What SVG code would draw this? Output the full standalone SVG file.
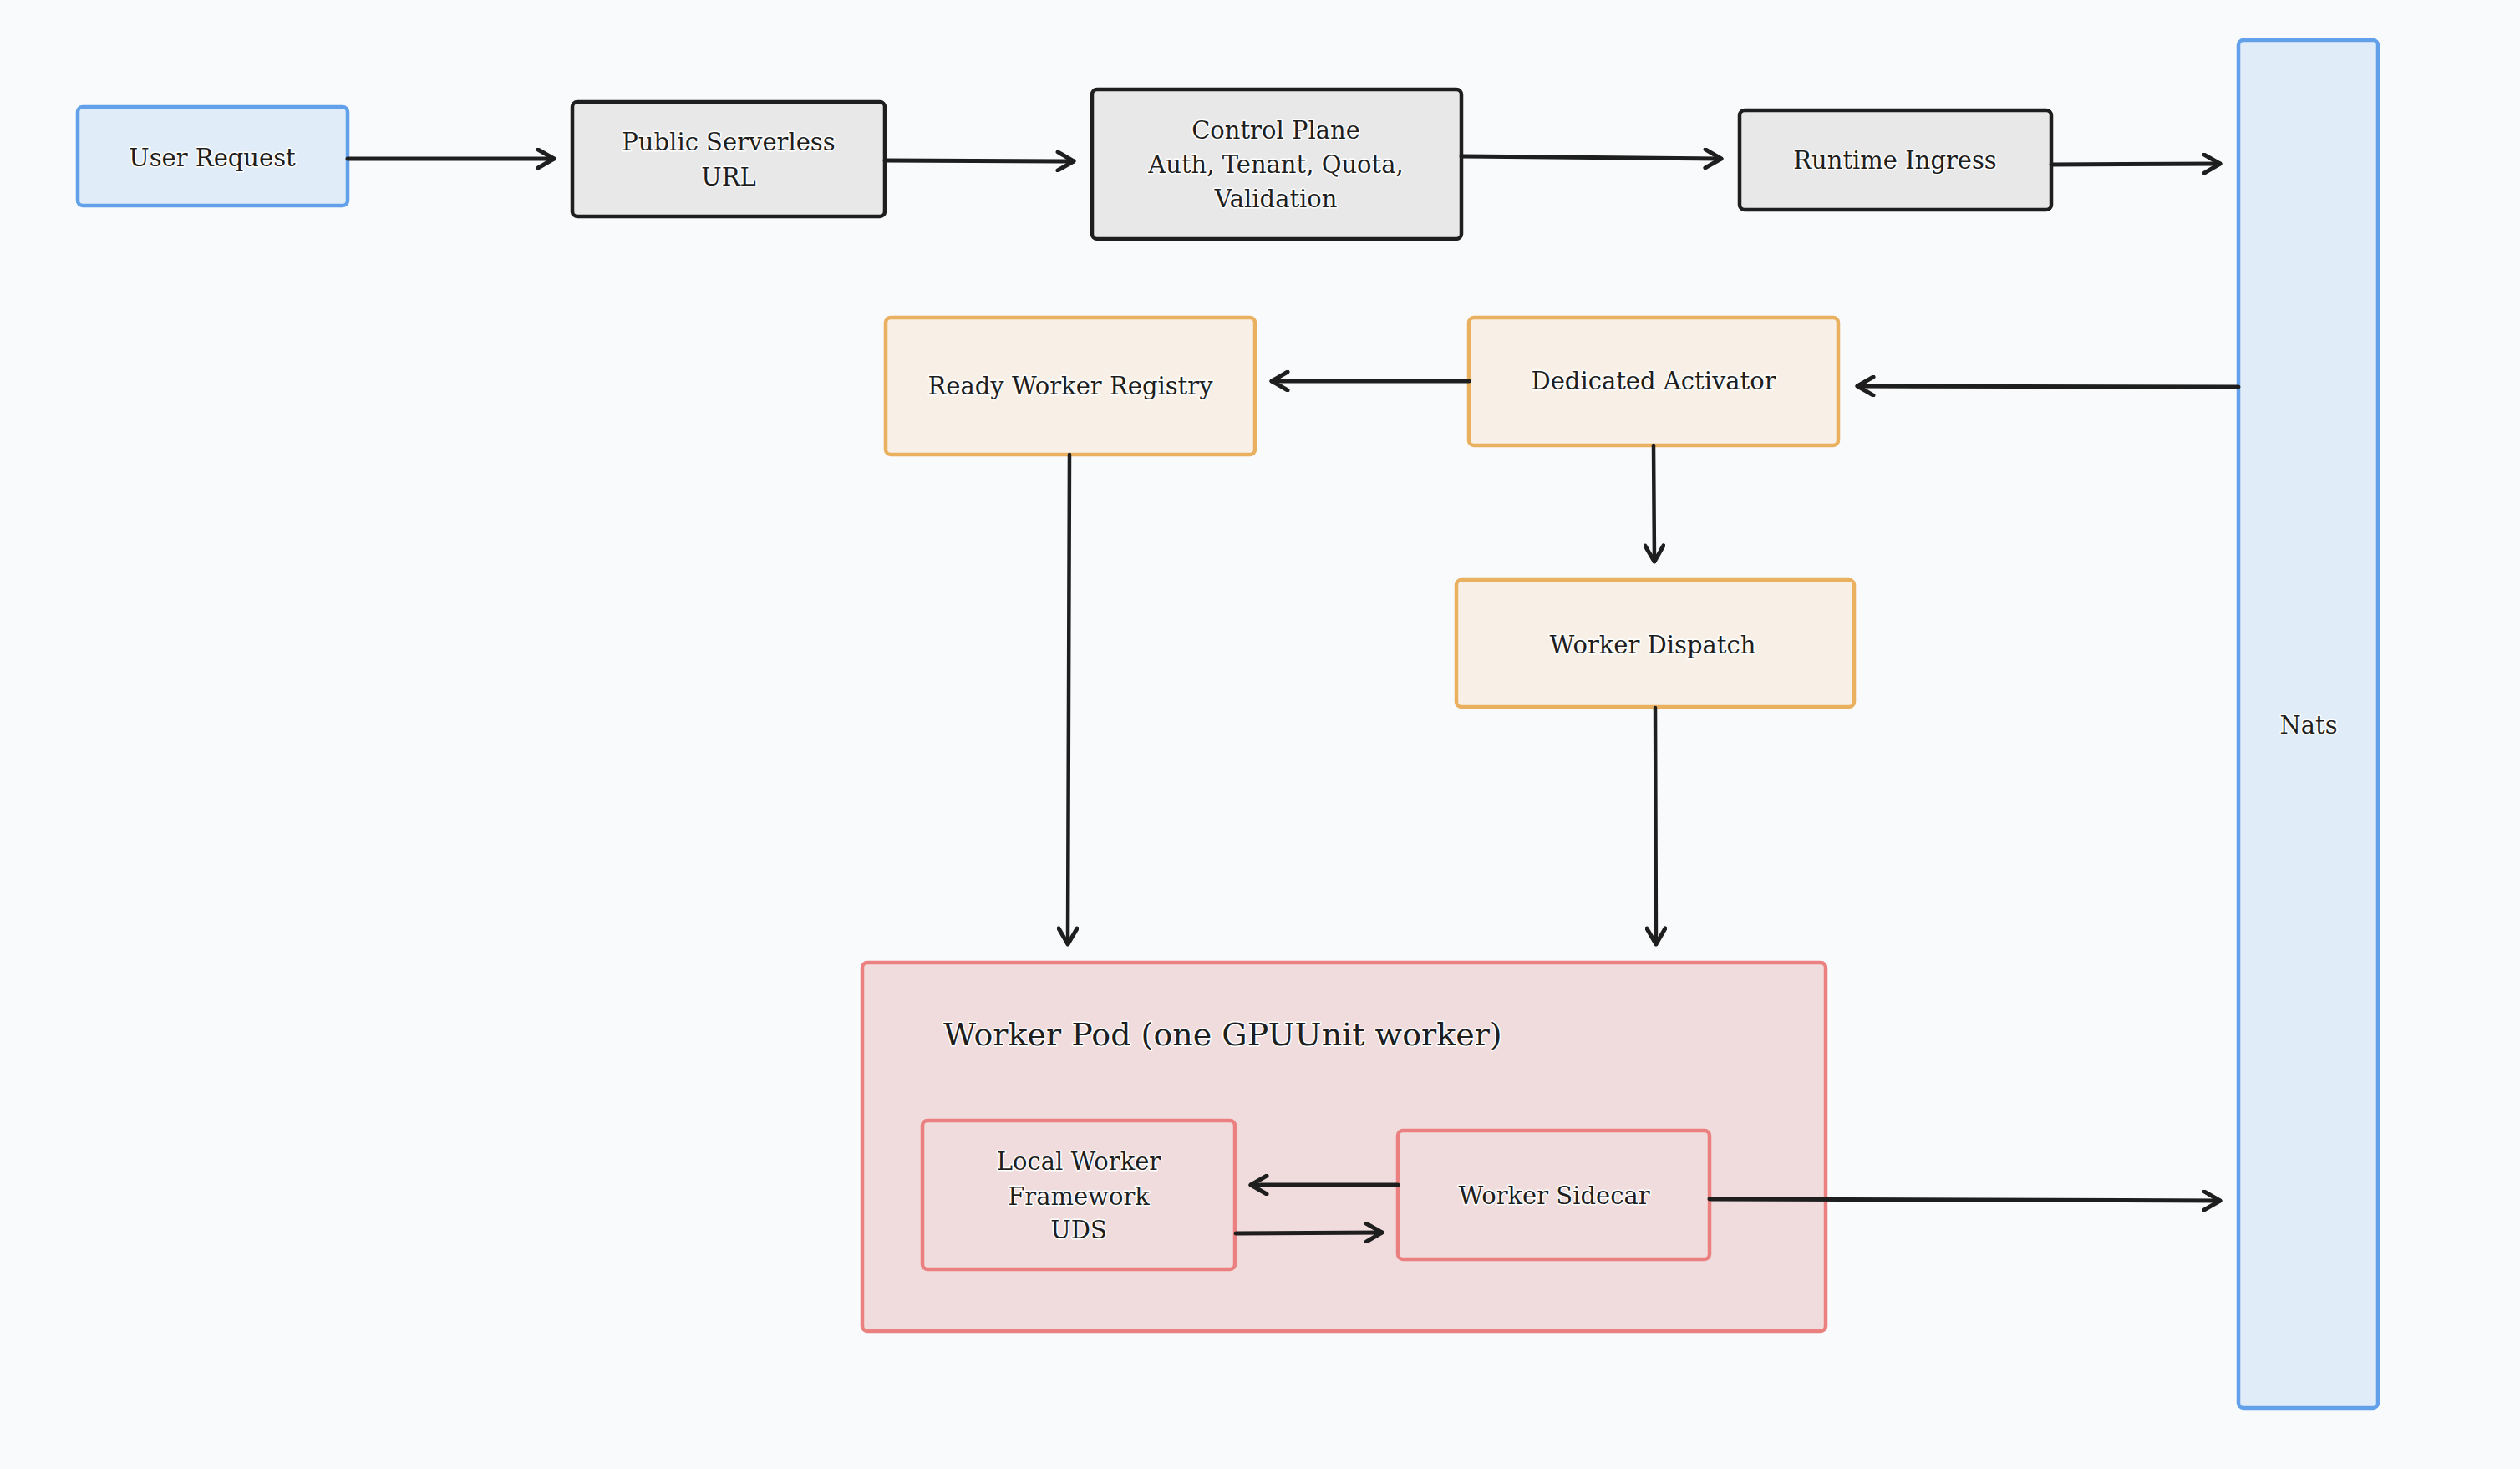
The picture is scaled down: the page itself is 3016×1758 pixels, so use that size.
<svg xmlns="http://www.w3.org/2000/svg" width="3016" height="1758" viewBox="0 0 3016 1758">
<style>
.t{font-family:"DejaVu Serif","Liberation Serif",serif;font-size:29px;fill:#1e1e1e;text-anchor:middle;stroke:#ffffff;stroke-width:3px;paint-order:stroke;stroke-linejoin:round}
.title{font-size:38px;text-anchor:start}
.blue{fill:#e1ecf9;stroke:#62a1ea;stroke-width:4.5}
.grey{fill:#e8e8e8;stroke:#1e1e1e;stroke-width:4.5}
.orange{fill:#f8f0e6;stroke:#e9b05f;stroke-width:4.5}
.red{fill:#f0dcdc;stroke:#ea8080;stroke-width:4.5}
.c{fill:none;stroke:#1e1e1e;stroke-width:5;stroke-linecap:round;stroke-linejoin:round}
.cv{stroke-width:4.5}
</style>
<defs>
<marker id="ah" viewBox="-23 -13 28 26" refX="0" refY="0" markerWidth="28" markerHeight="26" markerUnits="userSpaceOnUse" orient="auto">
<path d="M-19,-11 L0,0 L-19,11" fill="none" stroke="#1e1e1e" stroke-width="5" stroke-linecap="round" stroke-linejoin="round"/>
</marker>
</defs>
<rect x="0" y="0" width="3016" height="1758" fill="#f8fafc"/>

<g id="worker-pod">
<rect class="red" x="1032" y="1152" width="1153" height="441" rx="6"/>
<text class="t title" x="1129" y="1251">Worker Pod (one GPUUnit worker)</text>
</g>

<g id="user-request">
<rect class="blue" x="93" y="128" width="323" height="118" rx="6"/>
<text class="t" x="254" y="199">User Request</text>
</g>

<g id="public-serverless-url">
<rect class="grey" x="685" y="122" width="374" height="137" rx="6"/>
<text class="t" x="872" y="180">Public Serverless</text>
<text class="t" x="872" y="222">URL</text>
</g>

<g id="control-plane">
<rect class="grey" x="1307" y="107" width="442" height="179" rx="6"/>
<text class="t" x="1527" y="166">Control Plane</text>
<text class="t" x="1527" y="207">Auth, Tenant, Quota,</text>
<text class="t" x="1527" y="248">Validation</text>
</g>

<g id="runtime-ingress">
<rect class="grey" x="2082" y="132" width="373" height="119" rx="6"/>
<text class="t" x="2268" y="202">Runtime Ingress</text>
</g>

<g id="nats">
<rect class="blue" x="2679" y="48" width="167" height="1637" rx="6"/>
<text class="t" x="2763" y="878">Nats</text>
</g>

<g id="ready-worker-registry">
<rect class="orange" x="1060" y="380" width="442" height="164" rx="6"/>
<text class="t" x="1281" y="472">Ready Worker Registry</text>
</g>

<g id="dedicated-activator">
<rect class="orange" x="1758" y="380" width="442" height="153" rx="6"/>
<text class="t" x="1979" y="466">Dedicated Activator</text>
</g>

<g id="worker-dispatch">
<rect class="orange" x="1743" y="694" width="476" height="152" rx="6"/>
<text class="t" x="1978" y="782">Worker Dispatch</text>
</g>

<g id="local-worker-framework">
<rect class="red" x="1104" y="1341" width="374" height="178" rx="6"/>
<text class="t" x="1291" y="1400">Local Worker</text>
<text class="t" x="1291" y="1442">Framework</text>
<text class="t" x="1291" y="1482">UDS</text>
</g>

<g id="worker-sidecar">
<rect class="red" x="1673" y="1353" width="373" height="154" rx="6"/>
<text class="t" x="1860" y="1441">Worker Sidecar</text>
</g>

<g id="connectors">
<path class="c" d="M416,190 L663,190" marker-end="url(#ah)"/>
<path class="c" d="M1059,192 L1285,193" marker-end="url(#ah)"/>
<path class="c" d="M1749,187 L2060,190" marker-end="url(#ah)"/>
<path class="c" d="M2455,197 L2657,196" marker-end="url(#ah)"/>
<path class="c" d="M2679,463 L2223,462" marker-end="url(#ah)"/>
<path class="c" d="M1758,456 L1522,456" marker-end="url(#ah)"/>
<path class="c cv" d="M1979,533 L1980,672" marker-end="url(#ah)"/>
<path class="c cv" d="M1280,544 L1278,1130" marker-end="url(#ah)"/>
<path class="c cv" d="M1981,847 L1982,1130" marker-end="url(#ah)"/>
<path class="c" d="M1673,1418 L1497,1418" marker-end="url(#ah)"/>
<path class="c" d="M1479,1476 L1654,1475" marker-end="url(#ah)"/>
<path class="c" d="M2046,1435 L2657,1437" marker-end="url(#ah)"/>
</g>
</svg>
